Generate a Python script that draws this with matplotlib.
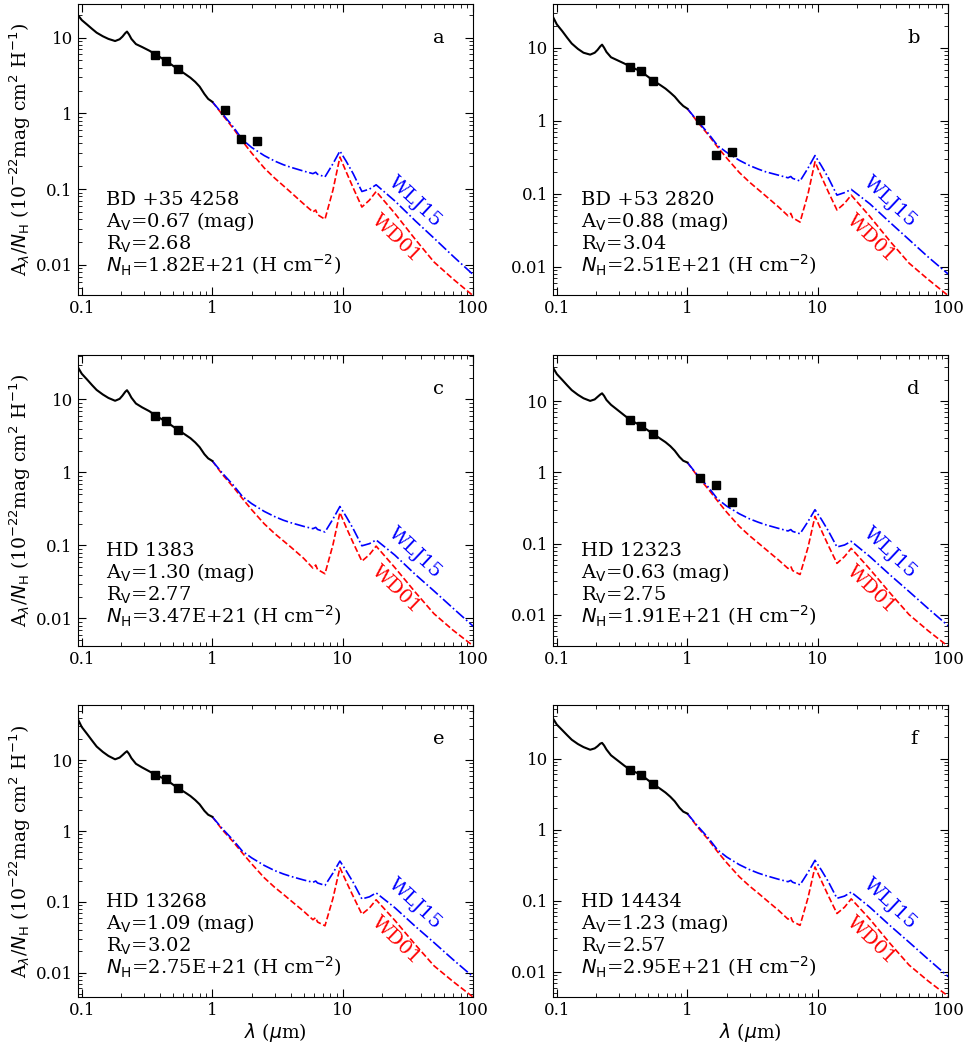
import numpy as np
import matplotlib
matplotlib.use('Agg')
import matplotlib.pyplot as plt
from matplotlib.ticker import FixedLocator, LogLocator, NullFormatter

plt.rcParams['font.family'] = 'DejaVu Serif'

# wavelength grids (micron)
wav_uv = [0.093, 0.1, 0.11, 0.12, 0.13, 0.145, 0.16, 0.18, 0.195, 0.205, 0.215, 0.222, 0.23, 0.24,
          0.26, 0.29, 0.33, 0.37, 0.44, 0.55, 0.62, 0.68, 0.74, 0.8, 0.87, 0.93, 1.0]
wav_ir = [1.0, 1.2, 1.45, 1.7, 2.0, 2.5, 3.0, 3.5, 4.0, 5.0, 5.9, 6.2, 6.4, 7.3,
          8.4, 9.5, 10.6, 12.0, 14.0, 16.0, 18.0, 25.0, 36.0, 50.0, 70.0, 100.0]
wav_obs = [0.365, 0.44, 0.55, 1.25, 1.65, 2.2]

# panel a  BD +35 4258
uv_a = [20.0, 17.0, 14.8, 13.0, 11.6, 10.4, 9.6, 9.0, 9.5, 10.3, 11.4, 12.0, 11.0, 9.6,
        8.2, 7.5, 6.7, 5.95, 4.95, 3.79, 3.3, 2.95, 2.6, 2.25, 1.8, 1.55, 1.42]
wd_a = [1.42, 0.95, 0.63, 0.43, 0.30, 0.19, 0.14, 0.111, 0.0905, 0.064, 0.050, 0.053, 0.046, 0.040,
        0.097, 0.265, 0.17, 0.104, 0.058, 0.0716, 0.093, 0.048, 0.0216, 0.0109, 0.0065, 0.0039]
wlj_a = [1.42, 0.98, 0.66, 0.45, 0.355, 0.277, 0.235, 0.21, 0.194, 0.173, 0.16, 0.167, 0.157, 0.145,
         0.216, 0.318, 0.234, 0.16, 0.093, 0.10, 0.114, 0.070, 0.038, 0.0225, 0.013, 0.0074]
obs_a = [5.87, 4.93, 3.79, 1.10, 0.453, 0.43]

# panel b  BD +53 2820
uv_b = [27.0, 21.0, 17.0, 13.8, 11.5, 9.7, 8.6, 8.1, 8.6, 9.4, 10.5, 11.1, 10.1, 8.8,
        7.45, 6.8, 6.1, 5.5, 4.77, 3.55, 3.1, 2.77, 2.44, 2.15, 1.8, 1.6, 1.47]
wd_b = [1.47, 0.96, 0.64, 0.44, 0.31, 0.196, 0.144, 0.114, 0.093, 0.066, 0.050, 0.054, 0.047, 0.041,
        0.10, 0.275, 0.175, 0.107, 0.060, 0.074, 0.096, 0.049, 0.022, 0.0112, 0.0067, 0.0040]
wlj_b = [1.47, 0.99, 0.67, 0.46, 0.37, 0.288, 0.244, 0.218, 0.2, 0.18, 0.166, 0.173, 0.163, 0.15,
         0.225, 0.335, 0.245, 0.167, 0.096, 0.104, 0.115, 0.073, 0.040, 0.0235, 0.0136, 0.0079]
obs_b = [5.48, 4.77, 3.55, 1.03, 0.34, 0.38]

# panel c  HD 1383
uv_c = [28.0, 22.5, 18.7, 15.7, 13.5, 11.7, 10.5, 9.6, 10.2, 11.3, 12.7, 13.4, 12.2, 10.6,
        8.8, 7.8, 6.9, 5.97, 5.0, 3.8, 3.3, 2.95, 2.58, 2.22, 1.78, 1.56, 1.44]
wd_c = [1.44, 0.93, 0.63, 0.44, 0.31, 0.198, 0.146, 0.116, 0.095, 0.067, 0.049, 0.054, 0.047, 0.041,
        0.102, 0.283, 0.178, 0.109, 0.061, 0.075, 0.098, 0.050, 0.0228, 0.0116, 0.0069, 0.0042]
wlj_c = [1.44, 0.97, 0.67, 0.47, 0.375, 0.293, 0.249, 0.222, 0.205, 0.183, 0.17, 0.177, 0.166, 0.153,
         0.23, 0.342, 0.25, 0.17, 0.099, 0.106, 0.119, 0.074, 0.040, 0.0238, 0.0138, 0.0078]
obs_c = [5.97, 5.0, 3.8]

# panel d  HD 12323
uv_d = [30.0, 24.0, 19.9, 16.7, 14.3, 12.3, 11.0, 10.1, 10.6, 11.5, 12.4, 12.9, 11.9, 10.4,
        8.9, 7.6, 6.3, 5.36, 4.56, 3.45, 2.98, 2.66, 2.34, 2.02, 1.65, 1.46, 1.38]
wd_d = [1.38, 0.88, 0.58, 0.40, 0.277, 0.175, 0.129, 0.102, 0.083, 0.059, 0.045, 0.048, 0.042, 0.037,
        0.089, 0.242, 0.156, 0.095, 0.053, 0.066, 0.086, 0.044, 0.020, 0.0101, 0.006, 0.0036]
wlj_d = [1.38, 0.91, 0.62, 0.425, 0.337, 0.263, 0.223, 0.2, 0.184, 0.164, 0.151, 0.158, 0.149, 0.138,
         0.205, 0.30, 0.222, 0.152, 0.09, 0.096, 0.108, 0.066, 0.036, 0.0213, 0.0123, 0.007]
obs_d = [5.36, 4.56, 3.45, 0.83, 0.67, 0.38]

# panel e  HD 13268
uv_e = [38.5, 29.4, 23.4, 18.9, 15.6, 13.1, 11.5, 10.3, 10.9, 11.8, 12.8, 13.4, 12.3, 10.7,
        8.9, 7.9, 6.95, 6.17, 5.35, 4.0, 3.5, 3.12, 2.74, 2.38, 1.93, 1.7, 1.59]
wd_e = [1.59, 1.03, 0.70, 0.49, 0.345, 0.219, 0.161, 0.128, 0.104, 0.074, 0.056, 0.060, 0.052, 0.046,
        0.112, 0.304, 0.195, 0.12, 0.067, 0.082, 0.107, 0.055, 0.0248, 0.0125, 0.0075, 0.0045]
wlj_e = [1.59, 1.07, 0.74, 0.52, 0.419, 0.327, 0.277, 0.248, 0.229, 0.204, 0.189, 0.197, 0.185, 0.171,
         0.255, 0.377, 0.276, 0.189, 0.11, 0.118, 0.134, 0.083, 0.045, 0.0266, 0.0153, 0.0087]
obs_e = [6.17, 5.35, 4.0]

# panel f  HD 14434
uv_f = [37.0, 30.0, 25.1, 21.3, 18.4, 16.0, 14.5, 13.3, 13.9, 14.9, 16.2, 16.6, 15.3, 13.4,
        11.1, 9.5, 7.9, 6.83, 5.94, 4.34, 3.75, 3.32, 2.9, 2.5, 2.03, 1.79, 1.68]
wd_f = [1.68, 1.08, 0.72, 0.49, 0.342, 0.217, 0.16, 0.127, 0.103, 0.073, 0.055, 0.059, 0.051, 0.045,
        0.11, 0.298, 0.193, 0.118, 0.066, 0.081, 0.106, 0.055, 0.0246, 0.0124, 0.0074, 0.0045]
wlj_f = [1.68, 1.12, 0.76, 0.52, 0.412, 0.321, 0.273, 0.244, 0.225, 0.2, 0.185, 0.193, 0.182, 0.167,
         0.25, 0.37, 0.272, 0.186, 0.108, 0.116, 0.132, 0.081, 0.044, 0.026, 0.015, 0.0085]
obs_f = [6.83, 5.94, 4.34]

letters = ['a', 'b', 'c', 'd', 'e', 'f']
stars = ['BD +35 4258', 'BD +53 2820', 'HD 1383', 'HD 12323', 'HD 13268', 'HD 14434']
av = ['0.67', '0.88', '1.30', '0.63', '1.09', '1.23']
rv = ['2.68', '3.04', '2.77', '2.75', '3.02', '2.57']
nh = ['1.82E+21', '2.51E+21', '3.47E+21', '1.91E+21', '2.75E+21', '2.95E+21']
ylims = [(0.0040, 28.1), (0.0041, 40.6), (0.0042, 41.3), (0.00367, 45.2), (0.00458, 59.7), (0.00445, 56.2)]

uv_all = [uv_a, uv_b, uv_c, uv_d, uv_e, uv_f]
wd_all = [wd_a, wd_b, wd_c, wd_d, wd_e, wd_f]
wlj_all = [wlj_a, wlj_b, wlj_c, wlj_d, wlj_e, wlj_f]
obs_all = [obs_a, obs_b, obs_c, obs_d, obs_e, obs_f]

fig = plt.figure(figsize=(9.66, 10.47), dpi=100)
lefts = [0.0804, 0.5722]
bottoms = [0.7182, 0.383, 0.048]
w, h = 0.4096, 0.2784

for i in range(6):
    row, col = i // 2, i % 2
    ax = fig.add_axes([lefts[col], bottoms[row], w, h])
    ax.set_xscale('log')
    ax.set_yscale('log')

    ax.plot(wav_ir, wd_all[i], color='red', ls='--', lw=1.2)
    ax.plot(wav_ir, wlj_all[i], color='blue', ls='-.', lw=1.2)
    ax.plot(wav_uv, uv_all[i], color='black', lw=1.5)
    obs = obs_all[i]
    ax.plot(wav_obs[:len(obs)], obs, 's', color='black', ms=5.5)

    ax.set_xlim(0.093, 100)
    ax.set_ylim(*ylims[i])

    ax.xaxis.set_major_locator(FixedLocator([0.1, 1, 10, 100]))
    ax.set_xticklabels(['0.1', '1', '10', '100'])
    ax.yaxis.set_major_locator(FixedLocator([0.01, 0.1, 1, 10]))
    ax.set_yticklabels(['0.01', '0.1', '1', '10'])
    ax.xaxis.set_minor_locator(LogLocator(base=10, subs=np.arange(2, 10), numticks=20))
    ax.yaxis.set_minor_locator(LogLocator(base=10, subs=np.arange(2, 10), numticks=20))
    ax.xaxis.set_minor_formatter(NullFormatter())
    ax.yaxis.set_minor_formatter(NullFormatter())
    ax.tick_params(which='both', direction='in', top=True, right=True, labelsize=12)
    ax.tick_params(which='major', length=6)
    ax.tick_params(which='minor', length=3)

    fs = 14
    ax.text(0.912, 0.883, letters[i], transform=ax.transAxes, fontsize=fs, ha='center', va='center')
    ax.text(0.071, 0.309, stars[i], transform=ax.transAxes, fontsize=fs, va='baseline')
    ax.text(0.071, 0.232, 'A$_{\\rm V}$=' + av[i] + ' (mag)', transform=ax.transAxes, fontsize=fs, va='baseline')
    ax.text(0.071, 0.155, 'R$_{\\rm V}$=' + rv[i], transform=ax.transAxes, fontsize=fs, va='baseline')
    ax.text(0.071, 0.078, '$N_{\\rm H}$=' + nh[i] + ' (H cm$^{-2}$)', transform=ax.transAxes,
            fontsize=fs, va='baseline')
    ax.text(0.852, 0.320, 'WLJ15', color='blue', rotation=-43, transform=ax.transAxes,
            fontsize=fs, ha='center', va='center')
    ax.text(0.805, 0.195, 'WD01', color='red', rotation=-44, transform=ax.transAxes,
            fontsize=fs, ha='center', va='center')

    if col == 0:
        ax.set_ylabel('A$_\\lambda$/$N_{\\rm H}$ (10$^{-22}$mag cm$^2$ H$^{-1}$)', fontsize=13.5, labelpad=2)
    if row == 2:
        ax.set_xlabel('$\\lambda$ ($\\mu$m)', fontsize=13.5, labelpad=2)

fig.savefig('out.png', dpi=100)
